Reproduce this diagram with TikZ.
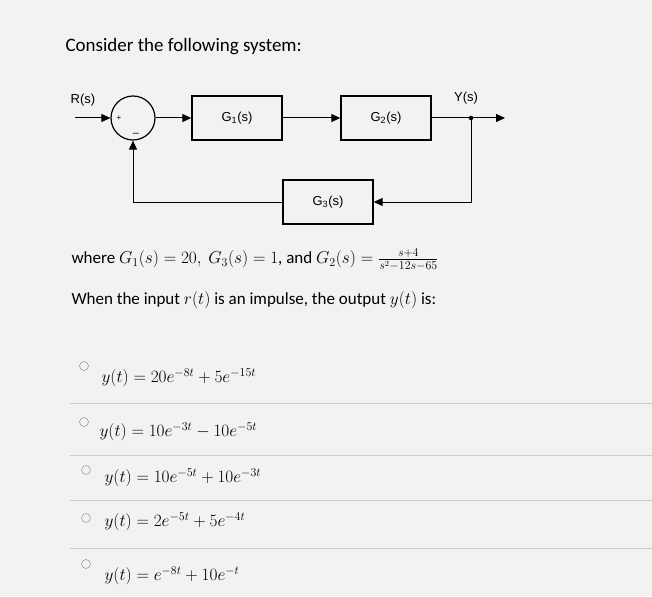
\documentclass[tikz,border=0pt]{standalone}
\usepackage{fontspec}
\setmainfont{Carlito}
\setsansfont{Liberation Sans}
\usetikzlibrary{arrows.meta}
\tikzset{
 blk/.style={draw,line width=1.4pt,minimum width=90pt,minimum height=44pt,inner sep=0pt,font=\sffamily\fontsize{13}{13}\selectfont},
 sig/.style={line width=1pt,-{Triangle[length=9pt,width=8pt]}},
 opt/.style={anchor=west,font=\fontsize{17}{17}\selectfont},
 radio/.style={draw=gray,circle,minimum size=9pt,inner sep=0pt},
 sep/.style={draw=gray!40,line width=0.8pt}
}
\begin{document}
\begin{tikzpicture}[x=1pt,y=-1pt]
\fill[gray!10] (0,0) rectangle (652,596);
\useasboundingbox (0,0) rectangle (652,596);
\node[anchor=west,font=\fontsize{19}{19}\selectfont] (title) at (62,47) {Consider the following system:};
% block diagram
\node[draw,circle,line width=1.2pt,minimum size=44pt,inner sep=0pt] (sum) at (133,118) {};
\node[font=\sffamily\fontsize{8}{8}\selectfont] (plus) at (119,118) {+};
\node[font=\sffamily\fontsize{11}{11}\selectfont] (minus) at (136,135) {--};
\coordinate (in) at (75,118);
\node[font=\sffamily\fontsize{13}{13}\selectfont] (R) at (83,100) {R(s)};
\node[blk] (g1) at (237,118) {G\textsubscript{1}(s)};
\node[blk] (g2) at (386,118) {G\textsubscript{2}(s)};
\node[blk] (g3) at (328,202) {G\textsubscript{3}(s)};
\node[circle,fill,inner sep=1.6pt] (dot) at (471,118) {};
\coordinate (out) at (505,118);
\node[font=\sffamily\fontsize{13}{13}\selectfont] (Y) at (466,98) {Y(s)};
\draw[sig] (in) -- (sum);
\draw[sig] (sum) -- (g1);
\draw[sig] (g1) -- (g2);
\draw[line width=1pt] (g2) -- (dot);
\draw[sig] (dot) -- (out);
\draw[sig] (dot) |- (g3);
\draw[sig] (g3) -| (sum);
% text
\node[anchor=west,font=\fontsize{17}{17}\selectfont] (where) at (68,260) {where $G_1(s)=20,\ G_3(s)=1$, and $G_2(s)=\frac{s+4}{s^2-12s-65}$};
\node[anchor=west,font=\fontsize{17}{17}\selectfont] (when) at (68,300) {When the input $r(t)$ is an impulse, the output $y(t)$ is:};
% options
\draw[sep] (70,403) -- (652,403);
\draw[sep] (70,455) -- (652,455);
\draw[sep] (70,500) -- (652,500);
\draw[sep] (70,548) -- (652,548);
\node[radio] (r1) at (84,366) {};
\node[radio] (r2) at (84,422) {};
\node[radio] (r3) at (86,470) {};
\node[radio] (r4) at (86,518) {};
\node[radio] (r5) at (86,564) {};
\node[opt] (o1) at (98,378) {$y(t)=20e^{-8t}+5e^{-15t}$};
\node[opt] (o2) at (96,432) {$y(t)=10e^{-3t}-10e^{-5t}$};
\node[opt] (o3) at (101,478) {$y(t)=10e^{-5t}+10e^{-3t}$};
\node[opt] (o4) at (101,522) {$y(t)=2e^{-5t}+5e^{-4t}$};
\node[opt] (o5) at (101,576) {$y(t)=e^{-8t}+10e^{-t}$};
\end{tikzpicture}
\end{document}
